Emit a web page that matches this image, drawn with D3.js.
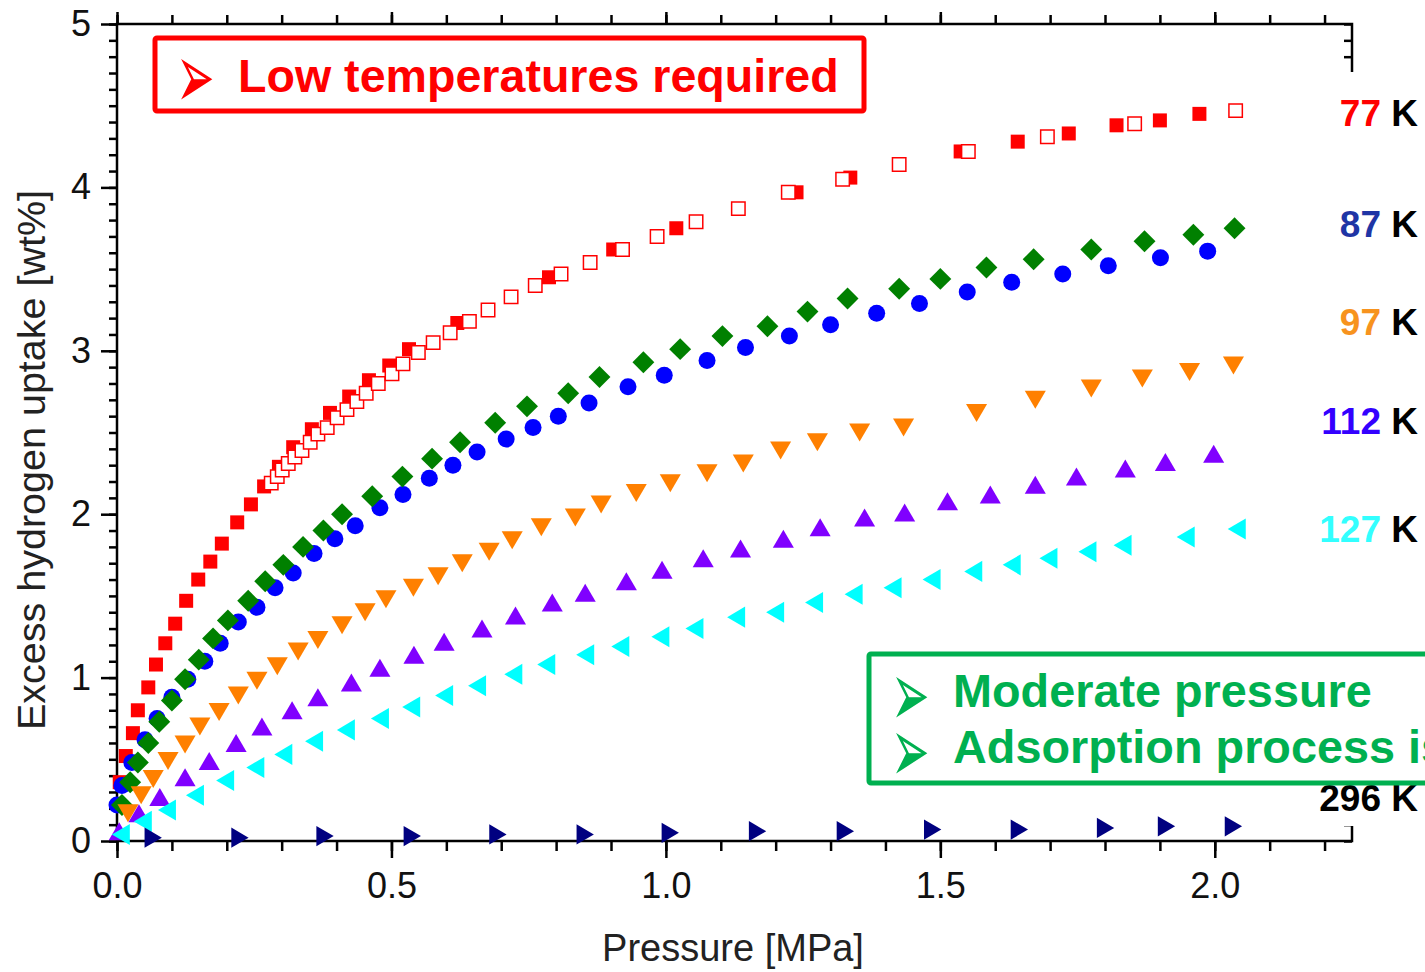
<!DOCTYPE html>
<html>
<head>
<meta charset="utf-8">
<script src="https://cdn.jsdelivr.net/npm/d3@7"></script>
<style>
body { margin: 0; background: #fff; }
text { font-family: "Liberation Sans", Arial, sans-serif; }
</style>
</head>
<body>
<svg width="1425" height="972"></svg>
<script>
// pressure [MPa] and excess hydrogen uptake [wt%]
var p77ads = [0.005, 0.016, 0.029, 0.038, 0.057, 0.071, 0.088, 0.106, 0.126, 0.148, 0.170, 0.191, 0.219, 0.244, 0.268, 0.295, 0.321, 0.355, 0.388, 0.423, 0.459, 0.496, 0.532, 0.620, 0.787, 0.904, 1.019, 1.238, 1.336, 1.537, 1.641, 1.734, 1.821, 1.900, 1.972];
var u77ads = [0.36, 0.52, 0.66, 0.80, 0.94, 1.08, 1.21, 1.33, 1.47, 1.60, 1.71, 1.82, 1.95, 2.06, 2.17, 2.29, 2.41, 2.52, 2.62, 2.72, 2.82, 2.91, 3.01, 3.17, 3.45, 3.62, 3.75, 3.97, 4.06, 4.22, 4.28, 4.33, 4.38, 4.41, 4.45];

var p77des = [0.281, 0.292, 0.301, 0.312, 0.324, 0.337, 0.352, 0.366, 0.383, 0.401, 0.419, 0.437, 0.454, 0.476, 0.501, 0.521, 0.549, 0.576, 0.607, 0.642, 0.676, 0.718, 0.762, 0.809, 0.862, 0.921, 0.984, 1.055, 1.132, 1.223, 1.322, 1.425, 1.551, 1.695, 1.854, 2.038];
var u77des = [2.19, 2.23, 2.27, 2.31, 2.35, 2.39, 2.44, 2.49, 2.53, 2.59, 2.64, 2.69, 2.74, 2.80, 2.86, 2.92, 2.99, 3.05, 3.11, 3.18, 3.25, 3.33, 3.40, 3.47, 3.54, 3.62, 3.70, 3.79, 3.87, 3.97, 4.05, 4.14, 4.22, 4.31, 4.39, 4.47];

var p87circ = [0.000, 0.009, 0.027, 0.051, 0.073, 0.100, 0.129, 0.160, 0.188, 0.221, 0.255, 0.288, 0.321, 0.359, 0.397, 0.434, 0.479, 0.521, 0.569, 0.612, 0.656, 0.709, 0.758, 0.804, 0.860, 0.931, 0.997, 1.075, 1.145, 1.225, 1.300, 1.384, 1.462, 1.549, 1.630, 1.723, 1.806, 1.901, 1.987];
var u87circ = [0.22, 0.34, 0.48, 0.62, 0.75, 0.88, 0.99, 1.10, 1.21, 1.34, 1.43, 1.55, 1.64, 1.76, 1.85, 1.93, 2.04, 2.12, 2.22, 2.30, 2.38, 2.46, 2.53, 2.60, 2.68, 2.78, 2.85, 2.94, 3.02, 3.09, 3.16, 3.23, 3.29, 3.36, 3.42, 3.47, 3.52, 3.57, 3.61];

var p87diam = [0.009, 0.024, 0.038, 0.057, 0.077, 0.100, 0.124, 0.149, 0.175, 0.202, 0.239, 0.270, 0.303, 0.339, 0.376, 0.410, 0.465, 0.520, 0.574, 0.625, 0.689, 0.747, 0.822, 0.879, 0.959, 1.026, 1.103, 1.185, 1.258, 1.331, 1.425, 1.500, 1.584, 1.670, 1.775, 1.872, 1.961, 2.036];
var u87diam = [0.22, 0.36, 0.48, 0.60, 0.73, 0.86, 0.99, 1.11, 1.24, 1.35, 1.47, 1.59, 1.69, 1.80, 1.90, 2.00, 2.11, 2.23, 2.34, 2.44, 2.56, 2.66, 2.74, 2.84, 2.93, 3.01, 3.09, 3.15, 3.24, 3.32, 3.38, 3.44, 3.51, 3.56, 3.62, 3.67, 3.71, 3.75];

var p97 = [0.020, 0.044, 0.066, 0.093, 0.124, 0.151, 0.186, 0.221, 0.255, 0.292, 0.330, 0.366, 0.410, 0.452, 0.490, 0.540, 0.585, 0.629, 0.678, 0.720, 0.773, 0.835, 0.882, 0.946, 1.008, 1.075, 1.141, 1.209, 1.276, 1.353, 1.433, 1.566, 1.673, 1.775, 1.868, 1.954, 2.034];
var u97 = [0.17, 0.28, 0.38, 0.49, 0.59, 0.70, 0.79, 0.89, 0.98, 1.07, 1.16, 1.23, 1.32, 1.40, 1.48, 1.55, 1.62, 1.70, 1.77, 1.84, 1.92, 1.98, 2.06, 2.13, 2.19, 2.25, 2.31, 2.39, 2.44, 2.50, 2.53, 2.62, 2.70, 2.77, 2.83, 2.87, 2.91];

var p112 = [0.004, 0.040, 0.078, 0.124, 0.168, 0.217, 0.264, 0.319, 0.366, 0.427, 0.479, 0.541, 0.596, 0.665, 0.726, 0.793, 0.853, 0.928, 0.993, 1.068, 1.136, 1.214, 1.281, 1.362, 1.435, 1.513, 1.591, 1.673, 1.748, 1.837, 1.910, 1.998];
var u112 = [0.06, 0.17, 0.27, 0.39, 0.49, 0.60, 0.70, 0.80, 0.88, 0.97, 1.06, 1.14, 1.22, 1.30, 1.38, 1.46, 1.52, 1.59, 1.66, 1.73, 1.79, 1.85, 1.92, 1.98, 2.01, 2.08, 2.12, 2.18, 2.23, 2.28, 2.32, 2.37];

var p127 = [0.007, 0.047, 0.091, 0.142, 0.197, 0.252, 0.303, 0.359, 0.417, 0.479, 0.536, 0.596, 0.656, 0.722, 0.782, 0.853, 0.917, 0.990, 1.052, 1.128, 1.199, 1.270, 1.342, 1.413, 1.484, 1.560, 1.630, 1.697, 1.768, 1.832, 1.947, 2.040];
var u127 = [0.04, 0.12, 0.19, 0.28, 0.37, 0.45, 0.53, 0.61, 0.68, 0.75, 0.82, 0.89, 0.95, 1.02, 1.08, 1.14, 1.19, 1.25, 1.30, 1.37, 1.40, 1.46, 1.51, 1.55, 1.60, 1.65, 1.69, 1.73, 1.77, 1.81, 1.86, 1.91];

var p296 = [0.066, 0.224, 0.379, 0.538, 0.694, 0.853, 1.008, 1.167, 1.327, 1.486, 1.644, 1.801, 1.912, 2.034];
var u296 = [0.02, 0.02, 0.03, 0.03, 0.04, 0.04, 0.05, 0.06, 0.06, 0.07, 0.07, 0.08, 0.09, 0.09];

var xTicks = [0, 0.5, 1.0, 1.5, 2.0];
var yTicks = [0, 1, 2, 3, 4, 5];
var tempNames = ["77", "87", "97", "112", "127", "296"];
var tempColors = ["#ff0000", "#1f35a5", "#f7931e", "#3300ff", "#33ffff", "#000000"];

var svg = d3.select("svg")
    , x = d3.scaleLinear().domain([0, 2.25]).range([117, 1352])
    , y = d3.scaleLinear().domain([0, 5]).range([841, 24]);

// isosceles triangle centred on its bounding box
var tri = {
    draw: function (ctx, size) {
        var h = Math.sqrt(size), w = h * 1.17;
        ctx.moveTo(0, -h / 2);
        ctx.lineTo(w / 2, h / 2);
        ctx.lineTo(-w / 2, h / 2);
        ctx.closePath();
    }
};

var series = [
    { p: p77ads, u: u77ads, type: d3.symbolSquare, size: 196, rot: 0, fill: "#ff0000", stroke: "none" },
    { p: p77des, u: u77des, type: d3.symbolSquare, size: 180, rot: 0, fill: "#ffffff", stroke: "#ff0000" },
    { p: p87circ, u: u87circ, type: d3.symbolCircle, size: 227, rot: 0, fill: "#0000ff", stroke: "none" },
    { p: p87diam, u: u87diam, type: d3.symbolSquare, size: 240, rot: 45, fill: "#008000", stroke: "none" },
    { p: p97, u: u97, type: tri, size: 324, rot: 180, fill: "#ff8000", stroke: "none" },
    { p: p112, u: u112, type: tri, size: 324, rot: 0, fill: "#8000ff", stroke: "none" },
    { p: p127, u: u127, type: tri, size: 324, rot: -90, fill: "#00ffff", stroke: "none" },
    { p: p296, u: u296, type: tri, size: 300, rot: 90, fill: "#000080", stroke: "none" }
];

// axes
var minorX = d3.range(0, 2.2501, 0.1), minorY = d3.range(0, 5.001, 0.1);
var ax = svg.append("g").attr("class", "axes");
function styleAxis(g) {
    g.select(".domain").remove();
    g.selectAll("line").attr("stroke", "#000").attr("stroke-width", 2.5);
    g.selectAll("text").attr("font-size", 36).attr("fill", "#111")
        .attr("font-family", "Liberation Sans, Arial, sans-serif");
}
ax.append("g").attr("transform", "translate(0,841)")
    .call(d3.axisBottom(x).tickValues(minorX).tickSize(10).tickFormat("")).call(styleAxis);
ax.append("g").attr("transform", "translate(0,841)")
    .call(d3.axisBottom(x).tickValues(xTicks).tickSize(17).tickPadding(14).tickFormat(d3.format(".1f")))
    .call(styleAxis);
ax.append("g").attr("transform", "translate(117,0)")
    .call(d3.axisLeft(y).tickValues(minorY).tickSize(8).tickFormat("")).call(styleAxis);
ax.append("g").attr("transform", "translate(117,0)")
    .call(d3.axisLeft(y).tickValues(yTicks).tickSize(16).tickPadding(10).tickFormat(d3.format("d")))
    .call(styleAxis);
ax.append("g").attr("transform", "translate(0,24)")
    .call(d3.axisBottom(x).tickValues(minorX).tickSize(-9).tickFormat("")).call(styleAxis);
ax.append("g").attr("transform", "translate(0,24)")
    .call(d3.axisBottom(x).tickValues(xTicks).tickSize(-12).tickFormat("")).call(styleAxis);
ax.append("g").attr("transform", "translate(1352,0)")
    .call(d3.axisLeft(y).tickValues(minorY).tickSize(8).tickFormat("")).call(styleAxis);
ax.append("rect").attr("x", 117).attr("y", 24).attr("width", 1352 - 117).attr("height", 841 - 24)
    .attr("fill", "none").attr("stroke", "#000").attr("stroke-width", 2.5);

// axis titles
svg.append("text").attr("x", 733).attr("y", 961).attr("text-anchor", "middle")
    .attr("font-size", 38).attr("fill", "#222").text("Pressure [MPa]");
svg.append("text").attr("transform", "translate(45,460) rotate(-90)").attr("text-anchor", "middle")
    .attr("font-size", 39.5).attr("fill", "#222").text("Excess hydrogen uptake [wt%]");

// data markers
series.forEach(function (s) {
    var sym = d3.symbol().type(s.type).size(s.size);
    svg.append("g").selectAll("path").data(d3.zip(s.p, s.u)).enter().append("path")
        .attr("transform", function (d) {
            return "translate(" + x(d[0]) + "," + y(d[1]) + ") rotate(" + s.rot + ")";
        })
        .attr("d", sym)
        .attr("fill", s.fill)
        .attr("stroke", s.stroke)
        .attr("stroke-width", 1.5);
});

// white strip behind temperature labels
svg.append("rect").attr("x", 1290).attr("y", 72).attr("width", 140).attr("height", 754).attr("fill", "#fff");

var labelY = [126, 237, 335, 434, 542, 811];
tempNames.forEach(function (t, i) {
    var lab = svg.append("text").attr("x", 1418).attr("y", labelY[i]).attr("text-anchor", "end")
        .attr("font-size", 37).attr("font-weight", "bold");
    lab.append("tspan").attr("fill", tempColors[i]).text(t);
    lab.append("tspan").attr("fill", "#000").text(" K");
});

// bullet arrowhead, stretched to the tall shape of the original
function bullet(cx, cy, color) {
    svg.append("text").attr("transform", "translate(" + cx + "," + cy + ") scale(1.15,2.3)")
        .attr("dominant-baseline", "central")
        .attr("font-size", 40).attr("fill", color)
        .attr("font-family", "DejaVu Sans").text("\u27A2");
}

// red callout
svg.append("rect").attr("x", 155).attr("y", 38).attr("width", 709).attr("height", 73)
    .attr("fill", "#fff").attr("stroke", "#ff0000").attr("stroke-width", 5).attr("rx", 2);
bullet(176, 76, "#ff0000");
svg.append("text").attr("x", 238).attr("y", 92).attr("font-size", 46.6).attr("font-weight", "bold")
    .attr("fill", "#ff0000").text("Low temperatures required");

// green callout
svg.append("rect").attr("x", 869).attr("y", 654).attr("width", 600).attr("height", 129)
    .attr("fill", "#fff").attr("stroke", "#00b050").attr("stroke-width", 5).attr("rx", 2);
var gLines = ["Moderate pressure", "Adsorption process is"];
gLines.forEach(function (t, i) {
    bullet(891, 694 + i * 56, "#00b050");
    svg.append("text").attr("x", 953).attr("y", 707 + i * 56).attr("font-size", 46.8).attr("font-weight", "bold")
        .attr("fill", "#00b050").text(t);
});
</script>
</body>
</html>
